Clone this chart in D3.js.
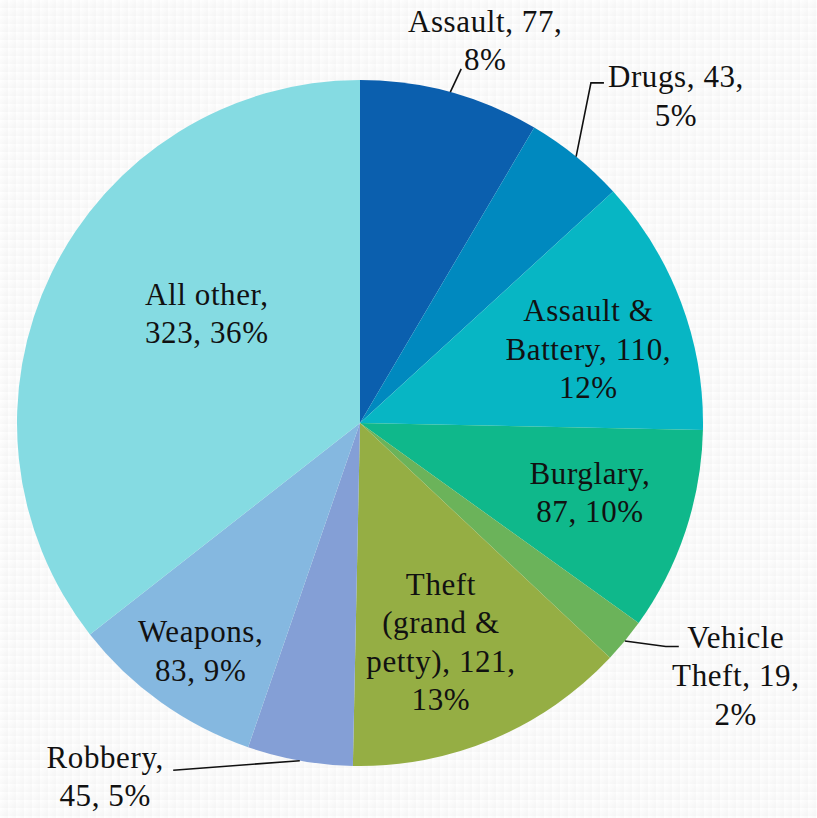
<!DOCTYPE html>
<html>
<head>
<meta charset="utf-8">
<script src="https://cdn.jsdelivr.net/npm/d3@7"></script>
<style>
  html, body { margin: 0; padding: 0; background: #ffffff; }
  svg { display: block; }
  text { font-family: "Liberation Serif", "DejaVu Serif", serif; fill: #111; letter-spacing: 0.6px; }
</style>
</head>
<body>
<svg id="chart" width="817" height="818"></svg>
<script>
// Offence categories, counts and slice colours
const categories = ["Assault", "Drugs", "Assault & Battery", "Burglary", "Vehicle Theft",
                    "Theft (grand & petty)", "Robbery", "Weapons", "All other"];
const counts = [77, 43, 110, 87, 19, 121, 45, 83, 323];
const colors = ["#0b5fae", "#0089bf", "#07b6c4", "#0fb88b", "#6bb35a",
                "#95ae44", "#849fd6", "#85b8e0", "#85dbe2"];

// How each label is broken into lines ({v} = count, {p} = percent)
const labelLines = [
  ["Assault, {v},", "{p}"],
  ["Drugs, {v},", "{p}"],
  ["Assault &", "Battery, {v},", "{p}"],
  ["Burglary,", "{v}, {p}"],
  ["Vehicle", "Theft, {v},", "{p}"],
  ["Theft", "(grand &", "petty), {v},", "{p}"],
  ["Robbery,", "{v}, {p}"],
  ["Weapons,", "{v}, {p}"],
  ["All other,", "{v}, {p}"]
];

// Label placement: polar position (degrees clockwise from 12 o'clock, radius as a
// fraction of the pie radius); outside labels get a leader line.
const placement = [
  { angle: 18.1,  r: 1.175, leader: { end: [-24, 29] } },
  { angle: 44.0,  r: 1.326, leader: { elbow: [-85, -13], end: [-72, -13] } },
  { angle: 72.0,  r: 0.70 },
  { angle: 106.7, r: 0.70 },
  { angle: 123.9, r: 1.32, leader: { elbow: [-70, -29], end: [-57, -29] } },
  { angle: 159.7, r: 0.68 },
  { angle: 215.8, r: 1.27, leader: { end: [68, -6] } },
  { angle: 215.0, r: 0.81 },
  { angle: 305.7, r: 0.55 }
];

const cx = 360, cy = 423, R = 343;
const fontSize = 31, lineHeight = 38.5;

const svg = d3.select("#chart");

// faint tiled backdrop
const defs = svg.append("defs");
const grad = defs.append("linearGradient").attr("id", "tileGrad")
  .attr("x1", 0).attr("y1", 0).attr("x2", 1).attr("y2", 1);
grad.append("stop").attr("offset", "0%").attr("stop-color", "#ffffff");
grad.append("stop").attr("offset", "100%").attr("stop-color", "#f4f4f4");
const pat = defs.append("pattern").attr("id", "tiles")
  .attr("width", 8).attr("height", 8).attr("patternUnits", "userSpaceOnUse");
pat.append("rect").attr("width", 8).attr("height", 8).attr("fill", "url(#tileGrad)");
svg.append("rect").attr("width", 817).attr("height", 818).attr("fill", "url(#tiles)");

const total = d3.sum(counts);
const data = categories.map((c, i) => ({ category: c, value: counts[i], i }));

const pie = d3.pie().value(d => d.value).sort(null);
const arcs = pie(data);
const arc = d3.arc().innerRadius(0).outerRadius(R);

const g = svg.append("g").attr("transform", `translate(${cx},${cy})`);

g.selectAll("path.slice")
  .data(arcs)
  .join("path")
  .attr("class", "slice")
  .attr("d", arc)
  .attr("fill", d => colors[d.data.i]);

const polar = (deg, r) => {
  const a = deg * Math.PI / 180;
  return [r * Math.sin(a), -r * Math.cos(a)];
};

// leader lines
arcs.forEach(d => {
  const p = placement[d.data.i];
  if (!p.leader) return;
  const mid = (d.startAngle + d.endAngle) / 2 * 180 / Math.PI;
  const start = polar(mid, R);
  const [lx, ly] = polar(p.angle, p.r * R);
  const pts = [start];
  if (p.leader.elbow) pts.push([lx + p.leader.elbow[0], ly + p.leader.elbow[1]]);
  pts.push([lx + p.leader.end[0], ly + p.leader.end[1]]);
  g.append("path")
    .attr("d", d3.line()(pts))
    .attr("fill", "none")
    .attr("stroke", "#111")
    .attr("stroke-width", 1.6);
});

// labels
arcs.forEach(d => {
  const i = d.data.i;
  const p = placement[i];
  const [lx, ly] = polar(p.angle, p.r * R);
  const pct = Math.round(d.data.value / total * 100) + "%";
  const lines = labelLines[i].map(s => s.replace("{v}", d.data.value).replace("{p}", pct));
  const t = g.append("text")
    .attr("text-anchor", "middle")
    .attr("font-size", fontSize)
    .attr("x", lx).attr("y", ly);
  lines.forEach((s, k) => {
    t.append("tspan")
      .attr("x", lx)
      .attr("y", ly + (k - (lines.length - 1) / 2) * lineHeight)
      .attr("dy", "0.35em")
      .text(s);
  });
});
</script>
</body>
</html>
